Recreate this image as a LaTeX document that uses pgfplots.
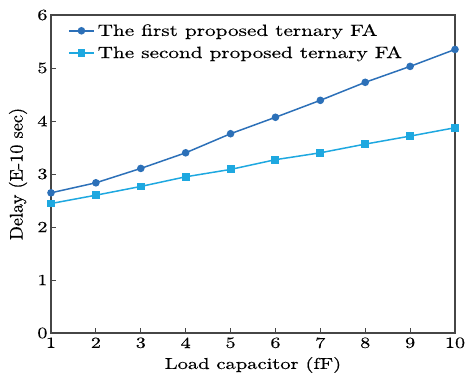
\documentclass[border=0pt]{standalone}
\usepackage{fontspec}
\setmainfont{lmroman10-regular.otf}[FakeStretch=1.3, FakeBold=0.4]
\newfontfamily\ylabfont{lmroman10-regular.otf}[FakeBold=0.4]
\usepackage{pgfplots}
\pgfplotsset{compat=1.18}
\definecolor{cA}{RGB}{44,112,184}
\definecolor{cB}{RGB}{30,168,224}
\definecolor{ax}{RGB}{70,70,70}
\begin{document}
\begin{tikzpicture}
\begin{axis}[
  scale only axis,
  width=404pt, height=318pt,
  xmin=1, xmax=10, ymin=0, ymax=6,
  xtick={1,...,10}, ytick={0,...,6},
  tick pos=left, tick align=inside,
  major tick length=5pt,
  /pgf/number format/assume math mode=true,
  axis line style={ax, line width=1.3pt},
  tick style={ax, line width=0.8pt},
  ticklabel style={font=\fontsize{15.5}{18}\selectfont},
  xticklabel style={yshift=-1pt},
  xlabel={Load capacitor (fF)},
  ylabel={\ylabfont\fontsize{18.3}{22}\selectfont Delay (E-10 sec)},
  xlabel style={font=\fontsize{15.8}{20}\selectfont, at={(axis description cs:0.5,0)}, anchor=center, yshift=-32pt},
  ylabel style={at={(axis description cs:0,0.5)}, anchor=center, yshift=33pt},
  legend style={draw=none, fill=none, at={(0,1)}, anchor=north west,
    xshift=14pt, yshift=-4pt,
    font=\fontsize{16.3}{22}\selectfont, row sep=3pt,
    nodes={inner sep=3pt}},
  legend cell align=left,
  legend image code/.code={\draw[mark repeat=2,mark phase=2,#1] plot coordinates {(0pt,0pt)(12.5pt,0pt)(25pt,0pt)};},
]
\addplot[cA, line width=1.5pt, mark=*, mark size=3pt] coordinates {
(1,2.645) (2,2.834) (3,3.105) (4,3.40) (5,3.76) (6,4.07) (7,4.39) (8,4.73) (9,5.03) (10,5.35)};
\addlegendentry{The first proposed ternary FA}
\addplot[cB, line width=1.5pt, mark=square*, mark size=3.2pt] coordinates {
(1,2.443) (2,2.60) (3,2.765) (4,2.947) (5,3.086) (6,3.27) (7,3.40) (8,3.564) (9,3.715) (10,3.873)};
\addlegendentry{The second proposed ternary FA}
\end{axis}
\pgfresetboundingbox
\path ([shift={(-51pt,-43pt)}]current axis.south west) rectangle ([shift={(11pt,15pt)}]current axis.north east);
\end{tikzpicture}
\end{document}
